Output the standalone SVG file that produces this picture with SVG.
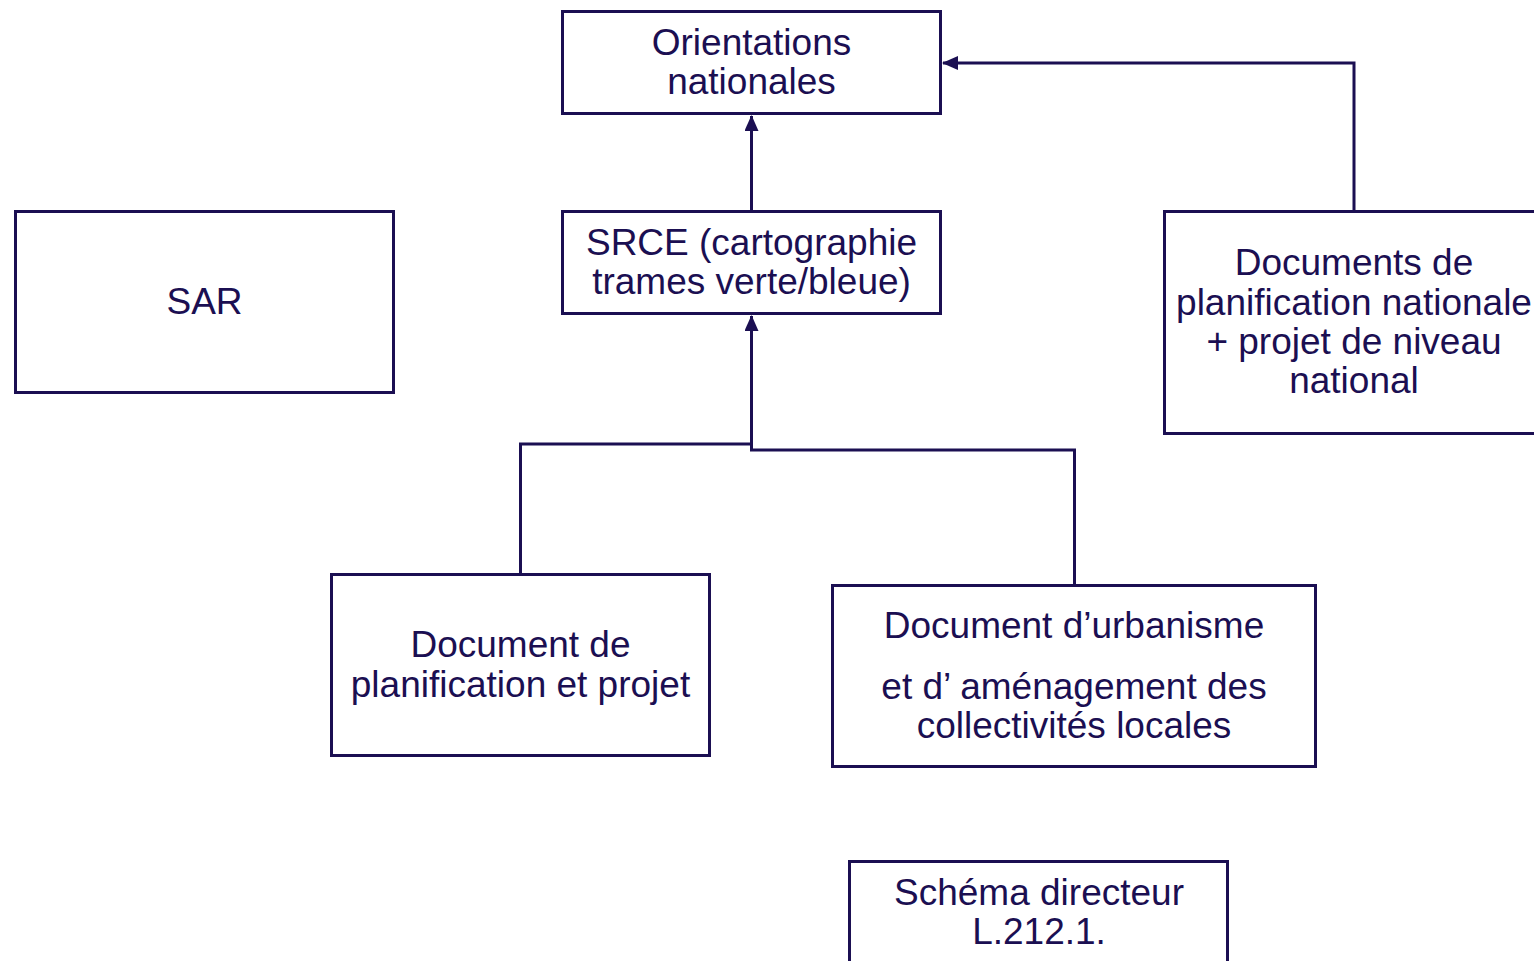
<svg xmlns="http://www.w3.org/2000/svg" width="1534" height="961" viewBox="0 0 1534 961">
<style>
.box{fill:#fff;stroke:#1b0f52;stroke-width:3}
.t{font-family:"Liberation Sans",Arial,sans-serif;font-size:37px;fill:#1b0f52;text-anchor:middle}
.c{fill:none;stroke:#1b0f52;stroke-width:3}
</style>
<defs>
<marker id="ah" markerWidth="16" markerHeight="14" refX="15" refY="7" orient="auto" markerUnits="userSpaceOnUse">
<path d="M0,0 L16,7 L0,14 Z" fill="#1b0f52"/>
</marker>
</defs>
<rect width="1534" height="961" fill="#fff"/>
<g id="connectors">
<path class="c" d="M751.5,211 V116" marker-end="url(#ah)"/>
<path class="c" d="M1354,211 V63 H943" marker-end="url(#ah)"/>
<path class="c" d="M520.5,574 V444 H751.5 V316" marker-end="url(#ah)"/>
<path class="c" d="M1074.5,585 V450 H751.5 V440"/>
</g>
<g id="orientations">
<rect class="box" x="562.5" y="11.5" width="378" height="102"/>
<text class="t" x="751.5" y="55">Orientations</text>
<text class="t" x="751.5" y="94">nationales</text>
</g>
<g id="srce">
<rect class="box" x="562.5" y="211.5" width="378" height="102"/>
<text class="t" x="751.5" y="255">SRCE (cartographie</text>
<text class="t" x="751.5" y="294">trames verte/bleue)</text>
</g>
<g id="sar">
<rect class="box" x="15.5" y="211.5" width="378" height="181"/>
<text class="t" x="204.5" y="314">SAR</text>
</g>
<g id="documents-nationale">
<rect class="box" x="1164.5" y="211.5" width="380" height="222"/>
<text class="t" x="1354" y="275">Documents de</text>
<text class="t" x="1354" y="315">planification nationale</text>
<text class="t" x="1354" y="354">+ projet de niveau</text>
<text class="t" x="1354" y="393">national</text>
</g>
<g id="document-planification">
<rect class="box" x="331.5" y="574.5" width="378" height="181"/>
<text class="t" x="520.5" y="657">Document de</text>
<text class="t" x="520.5" y="697">planification et projet</text>
</g>
<g id="document-urbanisme">
<rect class="box" x="832.5" y="585.5" width="483" height="181"/>
<text class="t" x="1074" y="638">Document d’urbanisme</text>
<text class="t" x="1074" y="699">et d’ aménagement des</text>
<text class="t" x="1074" y="738">collectivités locales</text>
</g>
<g id="schema-directeur">
<rect class="box" x="849.5" y="861.5" width="378" height="120"/>
<text class="t" x="1039" y="905">Schéma directeur</text>
<text class="t" x="1039" y="944">L.212.1.</text>
</g>
</svg>
